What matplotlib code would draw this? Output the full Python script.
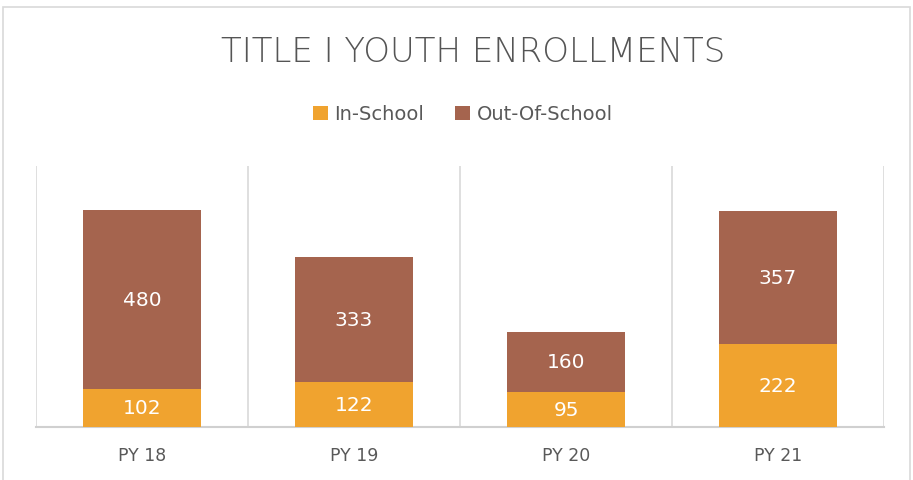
import numpy as np
import matplotlib.pyplot as plt
from matplotlib.patches import Rectangle

# données
categories = ["PY 18", "PY 19", "PY 20", "PY 21"]
in_school = [102, 122, 95, 222]
out_of_school = [480, 333, 160, 357]

c_in = "#F0A32F"
c_out = "#A5644E"
grey = "#595959"

fig = plt.figure(figsize=(9.13, 4.81), dpi=100)
ax = fig.add_axes([36 / 913, 53 / 481, 848 / 913, 261 / 481])

x = np.arange(len(categories))
b1 = ax.bar(x, in_school, width=0.56, color=c_in, label="In-School", zorder=3)
b2 = ax.bar(x, out_of_school, width=0.56, bottom=in_school, color=c_out,
            label="Out-Of-School", zorder=3)

# étiquettes de données
for i in range(len(categories)):
    ax.text(x[i], in_school[i] / 2, str(in_school[i]), ha="center", va="center",
            color="white", fontsize=14.5, zorder=4)
    ax.text(x[i], in_school[i] + out_of_school[i] / 2, str(out_of_school[i]),
            ha="center", va="center", color="white", fontsize=14.5, zorder=4)

ax.set_xlim(-0.5, len(categories) - 0.5)
ax.set_ylim(0, 700)
for xv in np.arange(-0.5, len(categories), 1.0):
    ax.axvline(xv, color="#D9D9D9", lw=1.2, zorder=1)

for s in ["top", "left", "right"]:
    ax.spines[s].set_visible(False)
ax.spines["bottom"].set_color("#D0D0D0")
ax.spines["bottom"].set_linewidth(1.5)
ax.set_yticks([])
ax.set_xticks(x)
ax.set_xticklabels(categories, fontsize=12.5, color=grey)
ax.tick_params(axis="x", length=0, pad=14)

fig.text(473 / 913, 1 - 53 / 481, "TITLE I YOUTH ENROLLMENTS", ha="center",
         va="center", fontsize=24.5, color="#555555", fontweight="light")

fig.legend(handles=[b1, b2], loc="center", bbox_to_anchor=(463 / 913, 1 - 115 / 481),
           ncol=2, frameon=False, fontsize=14, labelcolor=grey,
           handlelength=0.75, handleheight=0.75, handletextpad=0.35, columnspacing=1.6)

# cadre du graphique
fig.patches.append(Rectangle((3 / 913, -0.02), 907 / 913, 1 - 8 / 481 + 0.02,
                             transform=fig.transFigure, fill=False,
                             edgecolor="#D9D9D9", lw=1.2))

plt.savefig("out.png", dpi=100)
